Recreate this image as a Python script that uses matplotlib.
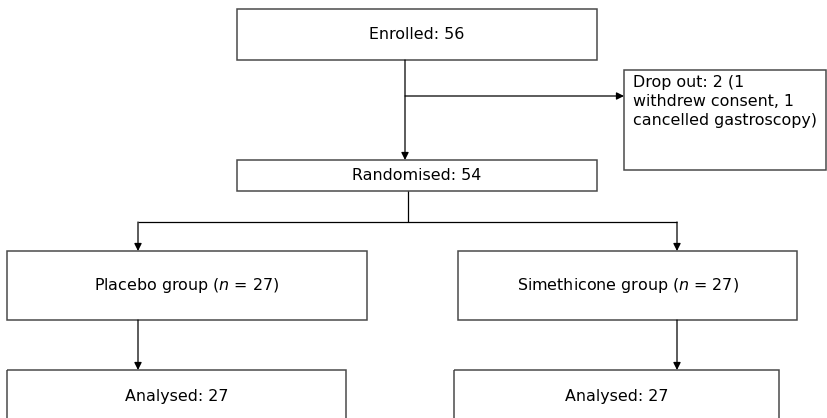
import matplotlib
matplotlib.use("Agg")
import matplotlib.pyplot as plt
from matplotlib.patches import Rectangle

# box labels
enrolled_label = "Enrolled: 56"
randomised_label = "Randomised: 54"
dropout_lines = ["Drop out: 2 (1", "withdrew consent, 1", "cancelled gastroscopy)"]
group_labels = [r"Placebo group ($\it{n}$ = 27)", r"Simethicone group ($\it{n}$ = 27)"]
analysed_labels = ["Analysed: 27", "Analysed: 27"]

# layout in pixels (x0, y0, x1, y1), y measured from top
enrolled_box = (237, 9, 597, 60)
randomised_box = (237, 160, 597, 191)
dropout_box = (624, 70, 826, 170)
group_boxes = [(7, 251, 367, 320), (458, 251, 797, 320)]
analysed_boxes = [(7, 370, 346, 440), (454, 370, 779, 440)]
branch_x = [138, 677]

fig = plt.figure(figsize=(8.27, 4.18), dpi=100)
ax = fig.add_axes([0, 0, 1, 1])
ax.set_xlim(0, 827)
ax.set_ylim(418, 0)
ax.axis("off")

edge = "#4a4a4a"
fs = 11.4


def box(b, label=None):
    x0, y0, x1, y1 = b
    ax.add_patch(Rectangle((x0, y0), x1 - x0, y1 - y0, fill=False,
                           edgecolor=edge, linewidth=1.1))
    if label is not None:
        ax.text((x0 + x1) / 2, (y0 + y1) / 2, label, ha="center", va="center",
                fontsize=fs, color="black")


def arrow(x0, y0, x1, y1):
    ax.annotate("", xy=(x1, y1), xytext=(x0, y0),
                arrowprops=dict(arrowstyle="-|>", color="black", lw=0.9,
                                mutation_scale=11, shrinkA=0, shrinkB=0))


def line(xs, ys):
    ax.plot(xs, ys, color="black", lw=0.9, solid_capstyle="butt")


box(enrolled_box, enrolled_label)
box(randomised_box, randomised_label)
box(dropout_box)
for i, t in enumerate(dropout_lines):
    ax.text(dropout_box[0] + 9, 82 + i * 19.5, t, ha="left", va="center",
            fontsize=fs, color="black")

# enrolled -> randomised, with drop-out branch
cx = 405
arrow(cx, enrolled_box[3], cx, randomised_box[1])
arrow(cx, 96, dropout_box[0], 96)

# randomised -> groups
rx = 408
split_y = 222
line([rx, rx], [randomised_box[3], split_y])
line([branch_x[0], branch_x[1]], [split_y, split_y])
for bx, gb, ab, gl, al in zip(branch_x, group_boxes, analysed_boxes,
                              group_labels, analysed_labels):
    arrow(bx, split_y, bx, gb[1])
    box(gb, gl)
    arrow(bx, gb[3], bx, ab[1])
    x0, y0, x1, y1 = ab
    ax.add_patch(Rectangle((x0, y0), x1 - x0, y1 - y0, fill=False,
                           edgecolor=edge, linewidth=1.1))
    ax.text((x0 + x1) / 2, 397, al, ha="center", va="center", fontsize=fs,
            color="black")

fig.savefig("out.png", dpi=100)
